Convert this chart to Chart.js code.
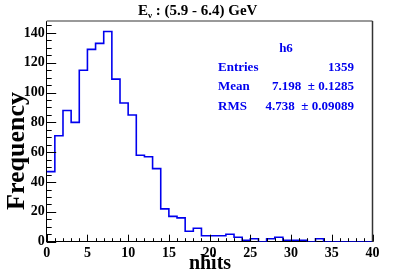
<!DOCTYPE html>
<html>
<head>
<meta charset="utf-8">
<script src="https://cdn.jsdelivr.net/npm/chart.js@4/dist/chart.umd.min.js"></script>
<style>
  html, body { margin: 0; padding: 0; background: #fff; }
  #wrap { width: 407px; height: 277px; }
</style>
</head>
<body>
<div id="wrap"><canvas id="histChart" width="407" height="277"></canvas></div>
<script>
// histogram h6, nhits, 40 bins of width 1
const binLow = [0,1,2,3,4,5,6,7,8,9,10,11,12,13,14,15,16,17,18,19,20,21,22,23,24,25,26,27,28,29,30,31,32,33,34,35,36,37,38,39,40];
const counts = [47,71,88,80,115,129,133,141,109,93,85,58,57,49,22,17,16,7,9,4,4,4,5,3,1,2,0,2,3,1,1,1,0,2,0,0,0,0,0,0,0];
const statLabels = ["Entries", "Mean", "RMS"];
const statValues = ["1359", "7.198  \u00b1 0.1285", "4.738  \u00b1 0.09089"];

const serif = '"Liberation Serif", "DejaVu Serif", serif';

// point i sits at the right edge of bin i so the step runs across the bin
var points = [{x: binLow[0], y: counts[0]}];
for (var i = 0; i < binLow.length - 1; i++) {
  points.push({x: binLow[i + 1], y: counts[i]});
}

// ROOT style ticks inside the frame + frame + texts
const rootDecor = {
  id: 'rootDecor',
  afterDatasetsDraw(chart) {
    const ctx = chart.ctx;
    const a = chart.chartArea;
    const xs = chart.scales.x, ys = chart.scales.y;
    ctx.save();
    ctx.strokeStyle = '#000';
    ctx.lineWidth = 1;
    ctx.beginPath();
    for (var v = 0; v <= 40; v++) { //x ticks, major every 5
      var px = Math.round(xs.getPixelForValue(v)) + 0.5;
      var len = (v % 5 == 0) ? 7 : 3.5;
      ctx.moveTo(px, a.bottom);
      ctx.lineTo(px, a.bottom - len);
    }
    for (var w = 0; w <= 145; w += 5) { //y ticks, major every 20
      var py = Math.round(ys.getPixelForValue(w)) + 0.5;
      var l2 = (w % 20 == 0) ? 9.5 : 5;
      ctx.moveTo(a.left, py);
      ctx.lineTo(a.left + l2, py);
    }
    ctx.stroke();

    // frame top + right
    ctx.strokeStyle = '#999';
    ctx.lineWidth = 2;
    ctx.beginPath();
    ctx.moveTo(a.left, a.top);
    ctx.lineTo(a.right, a.top);
    ctx.stroke();
    ctx.strokeStyle = '#333';
    ctx.lineWidth = 1.5;
    ctx.beginPath();
    ctx.moveTo(a.right, a.top);
    ctx.lineTo(a.right, a.bottom);
    ctx.stroke();

    // title E_nu
    ctx.fillStyle = '#000';
    ctx.textBaseline = 'alphabetic';
    ctx.textAlign = 'left';
    ctx.font = 'bold 15px ' + serif;
    var tx = 138, ty = 15;
    ctx.fillText('E', tx, ty);
    tx += ctx.measureText('E').width;
    ctx.font = 'bold 9px ' + serif;
    ctx.fillText('\u03bd', tx, ty + 3);
    tx += ctx.measureText('\u03bd').width;
    ctx.font = 'bold 15px ' + serif;
    ctx.fillText(' : (5.9 - 6.4) GeV', tx, ty);

    // axis titles
    ctx.font = 'bold 20px ' + serif;
    ctx.textAlign = 'center';
    ctx.fillText('nhits', 210, 269);
    ctx.save();
    ctx.translate(24, 151);
    ctx.rotate(-Math.PI / 2);
    ctx.font = 'bold 26px ' + serif;
    ctx.fillText('Frequency', 0, 0);
    ctx.restore();

    // stats box
    ctx.fillStyle = '#0000ee';
    ctx.font = 'bold 13px ' + serif;
    ctx.textBaseline = 'middle';
    ctx.textAlign = 'center';
    ctx.fillText('h6', 286, 49);
    var rowsY = [68, 87, 107];
    for (var k = 0; k < statLabels.length; k++) {
      ctx.textAlign = 'left';
      ctx.fillText(statLabels[k], 218, rowsY[k]);
      ctx.textAlign = 'right';
      ctx.fillText(statValues[k], 354, rowsY[k]);
    }
    ctx.restore();
  }
};

new Chart("histChart", {
  type: "line",
  data: {
    datasets: [{
      data: points,
      stepped: 'after',
      borderColor: '#0000ee',
      borderWidth: 1.6,
      pointRadius: 0,
      fill: false
    }]
  },
  options: {
    responsive: false,
    animation: false,
    layout: { padding: { left: 0, top: 21, right: 34.5, bottom: 0 } },
    plugins: { legend: { display: false }, tooltip: { enabled: false } },
    scales: {
      x: {
        type: 'linear',
        min: 0, max: 40,
        afterFit: function(s) { s.height = 35.3; },
        grid: { drawOnChartArea: false, drawTicks: false },
        border: { color: '#000', width: 1 },
        ticks: { stepSize: 5, padding: 3, color: '#000', maxRotation: 0,
                 font: { family: serif, size: 14, weight: 'bold' } }
      },
      y: {
        min: 0, max: 148,
        afterFit: function(s) { s.width = 46.7; },
        grid: { drawOnChartArea: false, drawTicks: false },
        border: { color: '#000', width: 1 },
        ticks: { stepSize: 20, padding: 2, includeBounds: false, color: '#000',
                 font: { family: serif, size: 14, weight: 'bold' } }
      }
    }
  },
  plugins: [rootDecor]
});
</script>
</body>
</html>
